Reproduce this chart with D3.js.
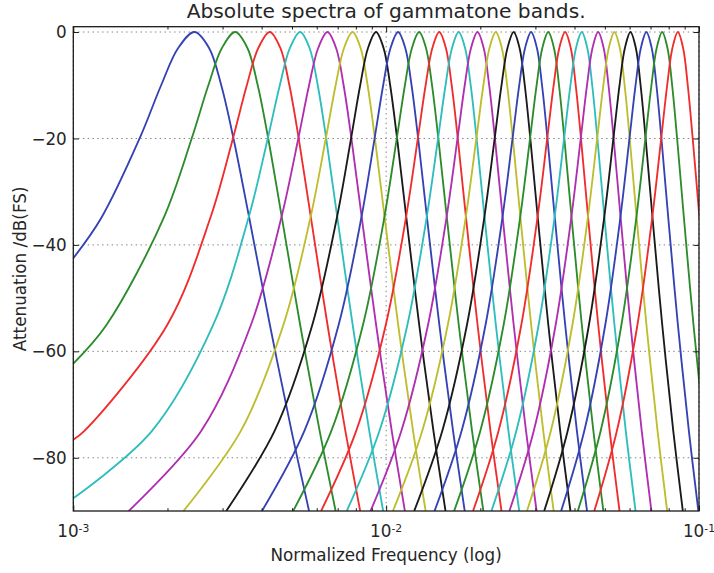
<!DOCTYPE html>
<html>
<head>
<meta charset="utf-8">
<script src="https://cdn.jsdelivr.net/npm/d3@7"></script>
<style>
  body { margin: 0; background: #fff; }
  text { font-family: "DejaVu Sans", sans-serif; fill: #262626; }
</style>
</head>
<body>
<svg id="chart" width="714" height="573"></svg>
<script>
// Attenuation levels (dB) at which each band's skirt frequencies are listed.
const levelsDb = [-3, -10, -20, -35, -55, -75, -90];

// Centre (peak) frequency of each gammatone band, normalized frequency.
const centreFreqs = [
  2.440e-3, 3.294e-3, 4.246e-3, 5.308e-3, 6.491e-3, 7.810e-3, 9.281e-3, 10.920e-3,
  12.748e-3, 14.785e-3, 17.056e-3, 19.588e-3, 22.411e-3, 25.558e-3, 29.066e-3, 32.977e-3,
  37.337e-3, 42.197e-3, 47.615e-3, 53.655e-3, 60.389e-3, 67.896e-3, 76.264e-3, 85.593e-3
];

// Frequencies below the centre where each band reaches the levels above
// (listed only while still on the chart).
const lowerFreqs = [
  [2.164e-3, 1.909e-3, 1.629e-3, 1.227e-3],
  [2.986e-3, 2.702e-3, 2.390e-3, 1.942e-3, 1.278e-3],
  [3.903e-3, 3.586e-3, 3.238e-3, 2.739e-3, 1.998e-3, 1.083e-3],
  [4.926e-3, 4.572e-3, 4.184e-3, 3.628e-3, 2.802e-3, 1.782e-3],
  [6.065e-3, 5.671e-3, 5.239e-3, 4.618e-3, 3.698e-3, 2.560e-3, 1.503e-3],
  [7.335e-3, 6.895e-3, 6.414e-3, 5.722e-3, 4.696e-3, 3.428e-3, 2.249e-3],
  [8.751e-3, 8.261e-3, 7.724e-3, 6.953e-3, 5.809e-3, 4.396e-3, 3.082e-3],
  [10.329e-3, 9.783e-3, 9.185e-3, 8.325e-3, 7.050e-3, 5.474e-3, 4.009e-3],
  [12.090e-3, 11.481e-3, 10.814e-3, 9.855e-3, 8.434e-3, 6.676e-3, 5.044e-3],
  [14.051e-3, 13.372e-3, 12.628e-3, 11.560e-3, 9.975e-3, 8.017e-3, 6.196e-3],
  [16.238e-3, 15.481e-3, 14.652e-3, 13.461e-3, 11.694e-3, 9.511e-3, 7.482e-3],
  [18.676e-3, 17.832e-3, 16.908e-3, 15.580e-3, 13.611e-3, 11.176e-3, 8.914e-3],
  [21.394e-3, 20.454e-3, 19.423e-3, 17.943e-3, 15.747e-3, 13.034e-3, 10.512e-3],
  [24.424e-3, 23.376e-3, 22.227e-3, 20.577e-3, 18.129e-3, 15.104e-3, 12.293e-3],
  [27.802e-3, 26.634e-3, 25.353e-3, 23.513e-3, 20.785e-3, 17.412e-3, 14.278e-3],
  [31.568e-3, 30.265e-3, 28.838e-3, 26.787e-3, 23.745e-3, 19.985e-3, 16.491e-3],
  [35.766e-3, 34.314e-3, 32.722e-3, 30.436e-3, 27.045e-3, 22.854e-3, 18.959e-3],
  [40.446e-3, 38.827e-3, 37.053e-3, 34.504e-3, 30.723e-3, 26.051e-3, 21.709e-3],
  [45.663e-3, 43.858e-3, 41.880e-3, 39.039e-3, 34.824e-3, 29.615e-3, 24.775e-3],
  [51.479e-3, 49.467e-3, 47.262e-3, 44.094e-3, 39.396e-3, 33.589e-3, 28.193e-3],
  [57.963e-3, 55.720e-3, 53.262e-3, 49.731e-3, 44.493e-3, 38.019e-3, 32.004e-3],
  [65.192e-3, 62.691e-3, 59.950e-3, 56.014e-3, 50.175e-3, 42.958e-3, 36.252e-3],
  [73.249e-3, 70.462e-3, 67.406e-3, 63.018e-3, 56.509e-3, 48.464e-3, 40.987e-3],
  [82.232e-3, 79.125e-3, 75.718e-3, 70.826e-3, 63.570e-3, 54.601e-3, 46.267e-3]
];

// Frequencies above the centre where each band reaches the levels above.
const upperFreqs = [
  [2.716e-3, 2.971e-3, 3.251e-3, 3.653e-3, 4.249e-3, 4.985e-3, 5.670e-3],
  [3.602e-3, 3.886e-3, 4.198e-3, 4.646e-3, 5.310e-3, 6.131e-3, 6.894e-3],
  [4.589e-3, 4.906e-3, 5.254e-3, 5.753e-3, 6.494e-3, 7.409e-3, 8.260e-3],
  [5.690e-3, 6.044e-3, 6.432e-3, 6.988e-3, 7.814e-3, 8.834e-3, 9.783e-3],
  [6.917e-3, 7.312e-3, 7.744e-3, 8.364e-3, 9.285e-3, 10.422e-3, 11.479e-3],
  [8.285e-3, 8.725e-3, 9.206e-3, 9.898e-3, 10.924e-3, 12.192e-3, 13.371e-3],
  [9.811e-3, 10.301e-3, 10.838e-3, 11.609e-3, 12.753e-3, 14.167e-3, 15.480e-3],
  [11.511e-3, 12.057e-3, 12.655e-3, 13.515e-3, 14.790e-3, 16.366e-3, 17.831e-3],
  [13.407e-3, 14.015e-3, 14.683e-3, 15.641e-3, 17.063e-3, 18.820e-3, 20.452e-3],
  [15.519e-3, 16.198e-3, 16.942e-3, 18.010e-3, 19.595e-3, 21.553e-3, 23.374e-3],
  [17.874e-3, 18.631e-3, 19.460e-3, 20.651e-3, 22.418e-3, 24.601e-3, 26.631e-3],
  [20.500e-3, 21.344e-3, 22.268e-3, 23.596e-3, 25.565e-3, 28.000e-3, 30.262e-3],
  [23.428e-3, 24.368e-3, 25.399e-3, 26.879e-3, 29.075e-3, 31.788e-3, 34.310e-3],
  [26.692e-3, 27.740e-3, 28.889e-3, 30.539e-3, 32.987e-3, 36.012e-3, 38.823e-3],
  [30.330e-3, 31.498e-3, 32.779e-3, 34.619e-3, 37.347e-3, 40.720e-3, 43.854e-3],
  [34.386e-3, 35.689e-3, 37.117e-3, 39.167e-3, 42.209e-3, 45.969e-3, 49.463e-3],
  [38.908e-3, 40.360e-3, 41.952e-3, 44.238e-3, 47.629e-3, 51.821e-3, 55.716e-3],
  [43.948e-3, 45.567e-3, 47.342e-3, 49.890e-3, 53.671e-3, 58.343e-3, 62.685e-3],
  [49.567e-3, 51.372e-3, 53.350e-3, 56.191e-3, 60.406e-3, 65.615e-3, 70.455e-3],
  [55.831e-3, 57.843e-3, 60.048e-3, 63.216e-3, 67.914e-3, 73.721e-3, 79.117e-3],
  [62.815e-3, 65.058e-3, 67.516e-3, 71.047e-3, 76.285e-3, 82.759e-3, 88.774e-3],
  [70.600e-3, 73.101e-3, 75.842e-3, 79.778e-3, 85.617e-3, 92.834e-3, 99.540e-3],
  [79.279e-3, 82.066e-3, 85.122e-3, 89.510e-3, 96.019e-3, 104.064e-3],
  [88.954e-3, 92.061e-3, 95.468e-3, 100.360e-3]
];

// Level of the lowest bands where they leave the chart at its left edge (f = 1e-3).
const leftEdgeDb = [-42.5, -62.3, -76.6, -87.6];

// Band colours, cycled in order.
const bandColours = ["#3442b4", "#2c8c2c", "#f02c2c", "#2ebdbd", "#b02eb0", "#bdbd2e", "#1a1a1a"];

// Axis ticks.
const yTicks = [0, -20, -40, -60, -80];
const xDecades = [1e-3, 1e-2, 1e-1];
const xDecadeExponents = ["-3", "-2", "-1"];
const xMinorMultipliers = [2, 3, 4, 5, 6, 7, 8, 9];

const titleText = "Absolute spectra of gammatone bands.";
const xLabelText = "Normalized Frequency (log)";
const yLabelText = "Attenuation /dB(FS)";

// ---- layout ----
const plot = { left: 73.3, right: 699, top: 26.7, bottom: 511 };

const svg = d3.select("#chart");

const x = d3.scaleLog().domain([1e-3, 1e-1]).range([plot.left, plot.right]);
const y = d3.scaleLinear().domain([-90, 1]).range([plot.bottom, plot.top]);

svg.append("defs").append("clipPath").attr("id", "plot-clip")
  .append("rect")
  .attr("x", plot.left).attr("y", plot.top)
  .attr("width", plot.right - plot.left).attr("height", plot.bottom - plot.top);

// Build each band's spectrum as a sequence of (frequency, level) points.
const bands = centreFreqs.map((fc, i) => {
  const pts = [];
  if (leftEdgeDb[i] !== undefined) pts.push([x.domain()[0], leftEdgeDb[i]]);
  const low = lowerFreqs[i];
  for (let j = low.length - 1; j >= 0; j--) pts.push([low[j], levelsDb[j]]);
  pts.push([fc, 0]);
  upperFreqs[i].forEach((f, j) => pts.push([f, levelsDb[j]]));
  return pts;
});

const line = d3.line()
  .x(d => x(d[0]))
  .y(d => y(d[1]))
  .curve(d3.curveCatmullRom.alpha(0.5));

// Grid (dotted) at major ticks.
const grid = svg.append("g").attr("class", "grid")
  .attr("stroke", "#808080").attr("stroke-width", 1)
  .attr("stroke-dasharray", "1.4,3.4");
grid.selectAll("line.gy").data(yTicks).join("line")
  .attr("x1", plot.left).attr("x2", plot.right)
  .attr("y1", d => y(d)).attr("y2", d => y(d));
grid.selectAll("line.gx").data(xDecades).join("line")
  .attr("y1", plot.top).attr("y2", plot.bottom)
  .attr("x1", d => x(d)).attr("x2", d => x(d));

// Spectra.
svg.append("g").attr("clip-path", "url(#plot-clip)")
  .selectAll("path").data(bands).join("path")
  .attr("d", line)
  .attr("fill", "none")
  .attr("stroke", (d, i) => bandColours[i % bandColours.length])
  .attr("stroke-width", 1.85)
  .attr("stroke-linejoin", "round");

// Axes with inward ticks on all four sides.
const majorLen = 5.5, minorLen = 2.8;
const minorTicks = [];
xDecades.slice(0, -1).forEach(d => xMinorMultipliers.forEach(m => minorTicks.push(d * m)));

const axisBottom = d3.axisBottom(x).tickValues(xDecades).tickSize(-majorLen).tickFormat("");
const axisTop = d3.axisTop(x).tickValues(xDecades).tickSize(-majorLen).tickFormat("");
const axisBottomMinor = d3.axisBottom(x).tickValues(minorTicks).tickSize(-minorLen).tickFormat("");
const axisTopMinor = d3.axisTop(x).tickValues(minorTicks).tickSize(-minorLen).tickFormat("");
const axisLeft = d3.axisLeft(y).tickValues(yTicks).tickSize(-majorLen).tickFormat("");
const axisRight = d3.axisRight(y).tickValues(yTicks).tickSize(-majorLen).tickFormat("");

function styleAxis(g) {
  g.select(".domain").remove();
  g.selectAll(".tick line").attr("stroke", "#1a1a1a").attr("stroke-width", 1);
}
svg.append("g").attr("transform", `translate(0,${plot.bottom})`).call(axisBottom).call(styleAxis);
svg.append("g").attr("transform", `translate(0,${plot.bottom})`).call(axisBottomMinor).call(styleAxis);
svg.append("g").attr("transform", `translate(0,${plot.top})`).call(axisTop).call(styleAxis);
svg.append("g").attr("transform", `translate(0,${plot.top})`).call(axisTopMinor).call(styleAxis);
svg.append("g").attr("transform", `translate(${plot.left},0)`).call(axisLeft).call(styleAxis);
svg.append("g").attr("transform", `translate(${plot.right},0)`).call(axisRight).call(styleAxis);

// Frame.
svg.append("rect")
  .attr("x", plot.left).attr("y", plot.top)
  .attr("width", plot.right - plot.left).attr("height", plot.bottom - plot.top)
  .attr("fill", "none").attr("stroke", "#1a1a1a").attr("stroke-width", 1.3);

// Y tick labels.
svg.append("g").selectAll("text").data(yTicks).join("text")
  .attr("x", plot.left - 6.5)
  .attr("y", d => y(d))
  .attr("dy", "0.36em")
  .attr("text-anchor", "end")
  .attr("font-size", 16.8)
  .text(d => d < 0 ? "\u2212" + Math.abs(d) : String(d));

// X tick labels: 10 with a superscript exponent.
const xl = svg.append("g").selectAll("text").data(xDecades).join("text")
  .attr("x", d => x(d))
  .attr("y", 537.3)
  .attr("text-anchor", "middle")
  .attr("font-size", 16.8);
xl.append("tspan").text("10");
xl.append("tspan").attr("font-size", 10.8).attr("dy", -5.8)
  .text((d, i) => xDecadeExponents[i]);

// Title and axis labels.
svg.append("text")
  .attr("x", (plot.left + plot.right) / 2).attr("y", 18.3)
  .attr("text-anchor", "middle").attr("font-size", 20.2)
  .text(titleText);
svg.append("text")
  .attr("x", (plot.left + plot.right) / 2).attr("y", 561)
  .attr("text-anchor", "middle").attr("font-size", 16.8)
  .text(xLabelText);
svg.append("text")
  .attr("transform", `translate(26,${(plot.top + plot.bottom) / 2}) rotate(-90)`)
  .attr("text-anchor", "middle").attr("font-size", 16.8)
  .text(yLabelText);
</script>
</body>
</html>
